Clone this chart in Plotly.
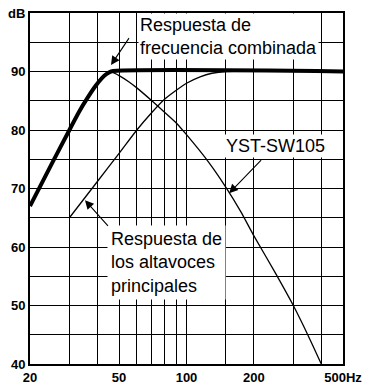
import numpy as np
import plotly.graph_objects as go

# combined response (thick)
comb_f = [20, 25, 30, 33, 36, 39, 42, 44, 46, 500]
comb_db = [67, 74.2, 80, 83, 85.4, 87.4, 88.9, 89.6, 90, 90]

# main speakers
main_f = [30, 40, 50, 60, 70, 80, 90, 100, 115, 130, 150, 500]
main_db = [65, 71.2, 76, 80, 83, 85.3, 86.8, 88, 89.1, 89.7, 90, 90]

# subwoofer YST-SW105
sub_f = [46, 50, 55, 60, 70, 80, 90, 100, 125, 150, 175, 200, 250, 300, 350, 400]
sub_db = [90, 89.3, 88.3, 87.2, 85, 83, 81.2, 79.2, 74.6, 70.2, 66, 61.9, 55.5, 50, 44.8, 40]

x_grid = [20, 30, 40, 50, 60, 70, 80, 90, 100, 150, 200, 300, 400, 500]
x_labels = {20: "20", 50: "50", 100: "100", 200: "200", 500: "500Hz"}
y_grid = list(range(40, 101, 5))
y_labels = {40: "40", 50: "50", 60: "60", 70: "70", 80: "80", 90: "90", 100: "dB"}

fig = go.Figure()
fig.add_trace(go.Scatter(x=main_f, y=main_db, mode="lines", hoverinfo="skip",
                         line=dict(color="black", width=1.3, shape="spline", smoothing=0.6)))
fig.add_trace(go.Scatter(x=sub_f, y=sub_db, mode="lines", hoverinfo="skip",
                         line=dict(color="black", width=1.3, shape="spline", smoothing=0.6)))
fig.add_trace(go.Scatter(x=comb_f, y=comb_db, mode="lines", hoverinfo="skip",
                         line=dict(color="black", width=4, shape="spline", smoothing=0.6)))

txt = dict(family="Liberation Sans, Arial, sans-serif", size=18, color="black")
box = dict(xref="paper", yref="paper", showarrow=False, align="left",
           xanchor="left", yanchor="middle", bgcolor="white", font=txt)
fig.add_annotation(text="Respuesta de<br>frecuencia combinada", x=0.345, y=0.932, **box)
fig.add_annotation(text="YST-SW105", x=0.62, y=0.62, **box)
fig.add_annotation(text="Respuesta de<br>los altavoces<br>principales ", x=0.245, y=0.29,
                   borderpad=3, **box)

arr = dict(text=" ", showarrow=True, arrowhead=2, arrowsize=1.6, arrowwidth=1.1,
           arrowcolor="black", font=dict(size=2))
fig.add_annotation(x=np.log10(46), y=91.1, ax=20, ay=-30, **arr)
fig.add_annotation(x=np.log10(35.2), y=68, ax=25, ay=28, **arr)
fig.add_annotation(x=np.log10(155), y=69.2, ax=34, ay=-35, **arr)

tickfont = dict(family="Liberation Sans, Arial, sans-serif", size=13, color="black",
                weight="bold")
fig.update_xaxes(type="log", range=[np.log10(20), np.log10(500)],
                 tickmode="array", tickvals=x_grid,
                 ticktext=[x_labels.get(v, "") for v in x_grid],
                 showgrid=True, gridcolor="black", gridwidth=1.1,
                 showline=True, linecolor="black", linewidth=2, mirror=True,
                 ticks="", tickfont=tickfont, zeroline=False, automargin=False)
fig.update_yaxes(range=[40, 100], tickmode="array", tickvals=y_grid,
                 ticktext=[y_labels.get(v, "") for v in y_grid],
                 showgrid=True, gridcolor="black", gridwidth=1.1,
                 showline=True, linecolor="black", linewidth=2, mirror=True,
                 ticks="", tickfont=tickfont, zeroline=False, automargin=False)
fig.update_layout(width=367, height=384, showlegend=False, hovermode=False,
                  margin=dict(l=30, r=24, t=13, b=20),
                  plot_bgcolor="white", paper_bgcolor="white")
fig.write_html("out.html", config={"displayModeBar": False},
               post_script="document.body.style.margin='0';")
